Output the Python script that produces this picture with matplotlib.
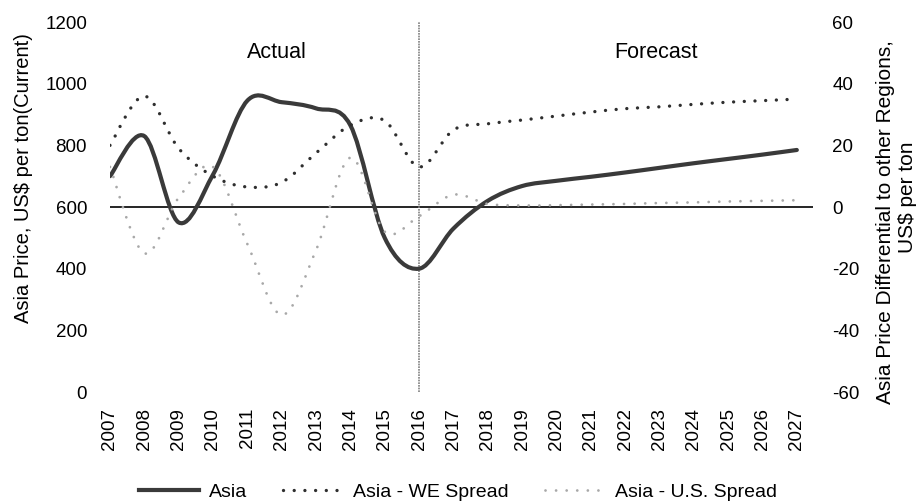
import matplotlib
matplotlib.use("Agg")
import matplotlib.pyplot as plt
from matplotlib.path import Path
from matplotlib.patches import PathPatch
from matplotlib.lines import Line2D

plt.rcParams['font.family'] = ['Liberation Sans', 'DejaVu Sans']
plt.rcParams['axes.unicode_minus'] = False

years = list(range(2007, 2028))

# Asia price, US$ per ton (left axis)
asia = [700, 830, 550, 705, 945, 940, 920, 865, 500, 400, 530,
        620, 668, 685, 698, 712, 727, 742, 756, 770, 785]

# spreads, US$ per ton (right axis)
we_spread = [20, 36, 19, 10, 6.5, 8, 17.5, 26.5, 28, 13, 25,
             27, 28.2, 29.5, 30.8, 31.9, 32.5, 33.3, 34, 34.5, 35]
us_spread = [13, -15, 3, 13, -12, -35, -14, 16, -8, -3, 4,
             1, 0.5, 0.6, 0.8, 1.0, 1.3, 1.5, 1.8, 2.0, 2.2]


def smooth_path(xs, ys):
    # cubic bezier through every point, like a spreadsheet "smoothed line"
    n = len(xs)
    verts = [(xs[0], ys[0])]
    codes = [Path.MOVETO]
    for i in range(n - 1):
        i0, i3 = max(i - 1, 0), min(i + 2, n - 1)
        x0, y0 = xs[i0], ys[i0]
        x1, y1 = xs[i], ys[i]
        x2, y2 = xs[i + 1], ys[i + 1]
        x3, y3 = xs[i3], ys[i3]
        verts += [(x1 + (x2 - x0) / 6, y1 + (y2 - y0) / 6),
                  (x2 - (x3 - x1) / 6, y2 - (y3 - y1) / 6),
                  (x2, y2)]
        codes += [Path.CURVE4] * 3
    return Path(verts, codes)


fig = plt.figure(figsize=(9.21, 5.04), dpi=100)
ax = fig.add_axes([0.1194, 0.2222, 0.7633, 0.7341])
ax2 = ax.twinx()

asia_style = dict(color='#3a3a3a', lw=3.0)
we_style = dict(color='#2e2e2e', lw=2.4, linestyle=(0, (0.01, 3.2)))
us_style = dict(color='#a8a8a8', lw=2.0, linestyle=(0, (0.01, 3.8)))

ax.add_patch(PathPatch(smooth_path(years, asia), fill=False, zorder=3,
                       edgecolor=asia_style['color'], lw=asia_style['lw'],
                       capstyle='round', joinstyle='round'))
ax2.add_patch(PathPatch(smooth_path(years, we_spread), fill=False, zorder=3,
                        edgecolor=we_style['color'], lw=we_style['lw'],
                        linestyle=we_style['linestyle'], capstyle='round'))
ax2.add_patch(PathPatch(smooth_path(years, us_spread), fill=False, zorder=4,
                        edgecolor=us_style['color'], lw=us_style['lw'],
                        linestyle=us_style['linestyle'], capstyle='round'))

ax.set_xlim(2007, 2027.47)
ax.set_ylim(0, 1200)
ax2.set_ylim(-60, 60)

ax.axhline(600, color='black', lw=1.2, zorder=2)
ax.axvline(2016, color='#808080', lw=1.2, ls=(0, (1, 0.6)), zorder=2)

ax.set_xticks(years)
ax.set_xticklabels([str(y) for y in years], rotation=90, fontsize=13.5)
ax.set_yticks(range(0, 1201, 200))
ax2.set_yticks(range(-60, 61, 20))
ax.tick_params(axis='y', labelsize=13.5, length=0, pad=16.5)
ax.tick_params(axis='x', length=0, pad=11.5)
ax2.tick_params(axis='y', labelsize=13.5, length=0, pad=14)

for a in (ax, ax2):
    for s in a.spines.values():
        s.set_visible(False)

fig.text(0.025, 0.647, 'Asia Price, US$ per ton(Current)', fontsize=14.5,
         rotation=90, ha='center', va='center')
fig.text(0.961, 0.5595, 'Asia Price Differential to other Regions,',
         fontsize=15, rotation=90, ha='center', va='center')
fig.text(0.985, 0.609, 'US$ per ton', fontsize=15, rotation=90,
         ha='center', va='center')

ax.text(2011.86, 1100, 'Actual', fontsize=15.5, ha='center', va='center')
ax.text(2022.9, 1100, 'Forecast', fontsize=15.5, ha='center', va='center')

handles = [
    Line2D([], [], color=asia_style['color'], lw=asia_style['lw']),
    Line2D([], [], color=we_style['color'], lw=we_style['lw'],
           linestyle=we_style['linestyle'], dash_capstyle='round'),
    Line2D([], [], color=us_style['color'], lw=us_style['lw'],
           linestyle=us_style['linestyle'], dash_capstyle='round'),
]
fig.legend(handles, ['Asia', 'Asia - WE Spread', 'Asia - U.S. Spread'],
           loc='center', bbox_to_anchor=(0.497, 0.024), ncol=3,
           frameon=False, fontsize=14, handlelength=3.1, handletextpad=0.5,
           columnspacing=1.85)

fig.savefig('out.png', dpi=100)
